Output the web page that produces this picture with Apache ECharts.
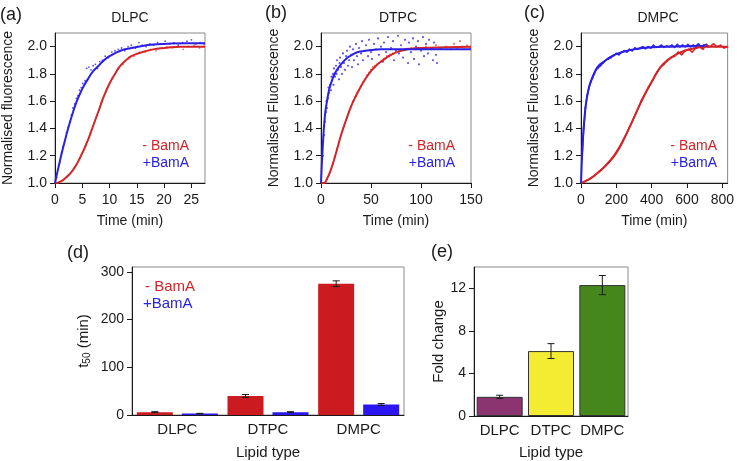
<!DOCTYPE html>
<html lang="en">
<head>
<meta charset="UTF-8">
<title>BamA folding kinetics</title>
<script src="https://cdn.jsdelivr.net/npm/echarts@6/dist/echarts.min.js"></script>
<style>
  html, body { margin: 0; padding: 0; background: #fff; }
  #main { width: 737px; height: 461px; }
</style>
</head>
<body>
<div id="main"></div>
<script>
// ---------- data ----------
// (a) DLPC
var dlpcFitMinus = [[0,1.0],[1,1.01],[2,1.04],[3,1.08],[4,1.14],[5,1.22],[6,1.31],[7,1.42],[8,1.53],[9,1.64],[10,1.73],[11,1.8],[12,1.86],[13,1.9],[14,1.93],[16,1.96],[18,1.98],[20,1.99],[23,2.0],[27.5,2.0]];
var dlpcFitPlus = [[0,1.0],[1,1.18],[2,1.34],[3,1.48],[4,1.6],[5,1.69],[6,1.76],[7,1.82],[8,1.86],[9,1.9],[10,1.93],[12,1.97],[14,1.99],[16,2.005],[18,2.015],[20,2.02],[24,2.025],[27.5,2.025]];
var dlpcPtsMinus = [[0.5,1.0],[1.5,1.02],[2.5,1.06],[3.5,1.11],[4.5,1.18],[5.5,1.27],[6.5,1.37],[7.5,1.48],[8.5,1.59],[9.5,1.69],[10.5,1.77],[11.5,1.84],[12.5,1.87],[13.5,1.91],[14.5,1.93],[15.5,1.96],[16.5,1.96],[17.5,1.98],[18.5,1.97],[19.5,1.99],[20.5,2.0],[21.5,1.99],[22.5,2.0],[23.5,1.98],[24.5,2.0],[25.5,2.01],[26.5,1.99],[27.3,2.0]];
var dlpcPtsPlus = [[0.3,1.04],[0.6,1.1],[0.9,1.15],[1.2,1.22],[1.5,1.27],[1.8,1.31],[2.1,1.37],[2.4,1.41],[2.7,1.45],[3.0,1.5],[3.3,1.55],[3.6,1.58],[3.9,1.62],[4.2,1.64],[4.5,1.68],[4.8,1.7],[5.1,1.73],[5.5,1.75],[5.8,1.84],[6.2,1.85],[6.6,1.83],[7.0,1.86],[7.4,1.87],[7.8,1.84],[8.2,1.89],[8.7,1.9],[9.2,1.93],[9.8,1.92],[10.4,1.96],[11,1.97],[11.6,1.98],[12.2,1.99],[12.8,1.97],[13.4,2.0],[14,2.01],[14.7,1.99],[15.4,2.03],[16,2.01],[16.7,2.0],[17.4,2.02],[18.1,2.01],[18.8,2.03],[19.5,2.02],[20.2,2.04],[21,2.02],[21.8,2.03],[22.6,2.01],[23.4,2.03],[24.2,2.04],[25,2.05],[25.8,2.02],[26.6,2.03],[27.3,2.02]];

// (b) DTPC
var dtpcFitMinus = [[0,1.0],[3,1.0],[6,1.03],[10,1.1],[15,1.22],[20,1.35],[25,1.46],[30,1.56],[35,1.64],[40,1.71],[45,1.77],[50,1.82],[55,1.86],[60,1.89],[70,1.94],[80,1.97],[90,1.985],[100,1.99],[150,2.0]];
var dtpcFitPlus = [[0,1.0],[2,1.3],[4,1.5],[6,1.6],[8,1.68],[10,1.73],[13,1.79],[16,1.83],[20,1.87],[25,1.91],[30,1.935],[35,1.955],[40,1.965],[50,1.975],[60,1.98],[150,1.98]];
var dtpcPtsMinus = [[3,1.0],[6,1.03],[8,1.06],[10,1.1],[12,1.14],[14,1.19],[16,1.25],[18,1.3],[20,1.35],[22,1.4],[24,1.44],[26,1.48],[28,1.52],[30,1.56],[32,1.6],[34,1.63],[36,1.66],[38,1.68],[40,1.71],[42,1.74],[44,1.76],[46,1.79],[48,1.81],[50,1.83],[52,1.85],[54,1.86],[56,1.87],[58,1.88],[60,1.89],[63,1.91],[66,1.93],[69,1.94],[72,1.95],[75,1.96],[78,1.97],[81,1.975],[84,1.98],[87,1.985],[90,1.99],[95,1.98],[100,1.99],[105,2.0],[110,1.98],[115,2.01],[120,1.99],[125,2.0],[130,1.98],[133,2.02],[136,1.99],[139,2.04],[141,2.0],[143,1.98],[146,2.01],[149,1.99]];
var dtpcPtsPlus = [[2,1.2],[3,1.35],[4,1.45],[5,1.52],[5.5,1.6],[6,1.55],[7,1.62],[7.5,1.7],[8,1.66],[9,1.72],[10,1.68],[10.5,1.78],[11,1.75],[12,1.8],[12.5,1.72],[13,1.84],[14,1.78],[15,1.86],[15.5,1.8],[16,1.9],[17,1.83],[18,1.76],[18.5,1.88],[19,1.92],[20,1.85],[21,1.8],[22,1.95],[23,1.88],[24,1.83],[25,1.93],[26,1.97],[27,1.86],[28,1.9],[29,2.0],[30,1.94],[31,1.85],[32,1.98],[33,1.9],[35,2.02],[36,1.93],[37,1.87],[38,1.99],[40,1.95],[41,2.04],[42,1.9],[44,1.97],[45,2.01],[47,1.93],[48,2.05],[50,1.96],[51,1.91],[53,2.02],[55,1.98],[57,2.06],[58,1.94],[60,2.0],[62,1.89],[63,2.03],[65,1.96],[67,2.07],[68,1.93],[70,1.99],[72,2.04],[73,1.9],[75,1.97],[77,2.08],[78,1.95],[80,2.01],[82,1.92],[84,2.05],[85,1.98],[87,1.88],[88,2.03],[90,1.96],[92,2.06],[93,1.91],[95,2.0],[97,2.04],[98,1.87],[100,1.97],[102,2.07],[103,1.93],[105,2.02],[107,1.95],[108,2.05],[110,1.99],[112,1.9],[113,2.03],[115,1.94],[116,1.88]];

// (c) DMPC
var dmpcFitMinus = [[0,1.0],[50,1.03],[100,1.08],[150,1.14],[200,1.22],[250,1.34],[300,1.48],[350,1.62],[400,1.74],[450,1.85],[500,1.91],[550,1.95],[600,1.975],[650,1.99],[700,2.0],[830,2.0]];
var dmpcFitPlus = [[0,1.0],[10,1.3],[20,1.48],[30,1.6],[45,1.7],[60,1.76],[80,1.82],[100,1.86],[130,1.89],[160,1.92],[200,1.945],[250,1.965],[300,1.98],[400,1.995],[500,2.0],[720,2.005]];
var dmpcPtsMinus = [[20,1.01],[60,1.04],[100,1.08],[140,1.13],[180,1.19],[220,1.27],[260,1.37],[300,1.48],[340,1.6],[380,1.7],[420,1.79],[450,1.85],[470,1.87],[490,1.9],[510,1.92],[530,1.93],[550,1.96],[570,1.94],[590,1.97],[610,1.98],[630,1.96],[650,1.99],[670,2.0],[690,1.98],[710,2.01],[730,2.0],[750,2.02],[770,2.0],[790,2.01],[810,1.99],[830,2.0]];
var dmpcPtsPlus = [[5,1.17],[15,1.4],[25,1.55],[35,1.64],[45,1.7],[55,1.74],[65,1.77],[75,1.8],[85,1.83],[95,1.84],[110,1.86],[125,1.88],[140,1.9],[155,1.91],[170,1.92],[185,1.935],[200,1.95],[215,1.94],[230,1.96],[245,1.97],[260,1.96],[275,1.98],[290,1.97],[305,1.99],[320,1.98],[335,1.99],[350,2.0],[365,1.985],[380,2.0],[395,1.99],[410,2.01],[425,1.995],[440,2.0],[455,2.01],[470,1.995],[485,2.005],[500,2.0],[515,2.01],[530,1.995],[545,2.015],[560,2.0],[575,2.01],[590,2.0],[605,2.015],[620,2.0],[635,2.01],[650,2.005],[665,2.02],[680,2.0],[695,2.01],[710,2.015],[720,2.0]];

// (d) t50 per lipid
var lipids = ['DLPC', 'DTPC', 'DMPC'];
var t50Minus = [6, 40, 275];
var t50MinusErr = [1, 3, 6];
var t50Plus = [3, 6, 22];
var t50PlusErr = [0.5, 1, 2];

// (e) fold change
var foldChange = [1.8, 6.1, 12.3];
var foldErr = [0.15, 0.7, 0.9];

// tick labels
var fluorTicks = [1.0, 1.2, 1.4, 1.6, 1.8, 2.0];
var dlpcTimeTicks = [0, 5, 10, 15, 20, 25];
var dtpcTimeTicks = [0, 50, 100, 150];
var dmpcTimeTicks = [0, 200, 400, 600, 800];
var t50Ticks = [0, 100, 200, 300];
var foldTicks = [0, 4, 8, 12];

// ---------- chart ----------
var FONT = '"Liberation Sans", Arial, sans-serif';
var RED = '#d32427';
var BLUE = '#2a20e6';
var INK = '#1a1a1a';

function valAxis(grid, min, max, ticks, extra) {
	var ax = {
		type: 'value',
		gridIndex: grid,
		min: min,
		max: max,
		axisLine: { show: true, onZero: false, lineStyle: { color: INK, width: 1 } },
		axisTick: { show: true, length: 5, customValues: ticks, lineStyle: { color: INK } },
		axisLabel: { color: INK, fontSize: 14, fontFamily: FONT, margin: 8, customValues: ticks },
		splitLine: { show: false },
		nameLocation: 'middle',
		nameTextStyle: { color: INK, fontSize: 14, fontFamily: FONT }
	};
	for (var k in extra) ax[k] = extra[k];
	return ax;
}

function fluorY(grid, name) {
	return valAxis(grid, 1.0, 2.1, fluorTicks, {
		name: name, nameGap: 40,
		axisLabel: { color: INK, fontSize: 14, fontFamily: FONT, margin: 8, customValues: fluorTicks,
			formatter: function (v) { return v.toFixed(1); } }
	});
}

function timeX(grid, max, ticks) {
	var ax = valAxis(grid, 0, max, ticks, { name: 'Time (min)', nameGap: 31 });
	ax.axisLabel.margin = 10;
	return ax;
}

function kinetics(idx, ptsMinus, ptsPlus, fitMinus, fitPlus, dotSize) {
	var size = dotSize || 1.8;
	return [
		{ type: 'scatter', xAxisIndex: idx, yAxisIndex: idx, data: ptsMinus, symbolSize: size,
			itemStyle: { color: '#e05a5a', opacity: 0.8 }, silent: true },
		{ type: 'scatter', xAxisIndex: idx, yAxisIndex: idx, data: ptsPlus, symbolSize: size,
			itemStyle: { color: '#4a40f0', opacity: 0.9 }, silent: true },
		{ type: 'line', xAxisIndex: idx, yAxisIndex: idx, data: fitMinus, smooth: true, showSymbol: false,
			lineStyle: { color: RED, width: 2 }, silent: true },
		{ type: 'line', xAxisIndex: idx, yAxisIndex: idx, data: fitPlus, smooth: true, showSymbol: false,
			lineStyle: { color: BLUE, width: 2 }, silent: true }
	];
}

// error bars drawn with the axes' own coordinate system
function errorBars(idx, values, errs, offsetFrac) {
	var data = values.map(function (v, i) { return [i, v, errs[i]]; });
	return {
		type: 'custom', xAxisIndex: idx, yAxisIndex: idx, data: data, z: 10, silent: true,
		renderItem: function (params, api) {
			var i = api.value(0), v = api.value(1), e = api.value(2);
			var hi = api.coord([i, v + e]);
			var lo = api.coord([i, v - e]);
			var x = hi[0] + api.size([1, 0])[0] * offsetFrac;
			var cap = 3.5;
			var st = { stroke: INK, lineWidth: 1 };
			return { type: 'group', children: [
				{ type: 'line', shape: { x1: x, y1: hi[1], x2: x, y2: lo[1] }, style: st },
				{ type: 'line', shape: { x1: x - cap, y1: hi[1], x2: x + cap, y2: hi[1] }, style: st },
				{ type: 'line', shape: { x1: x - cap, y1: lo[1], x2: x + cap, y2: lo[1] }, style: st }
			] };
		}
	};
}

function txt(x, y, s, color, size, align) {
	return { type: 'text', x: x, y: y, silent: true,
		style: { text: s, fill: color || INK, font: (size || 14) + 'px ' + FONT,
			textAlign: align || 'left', textVerticalAlign: 'middle' } };
}

var catAxisLabel = { color: INK, fontSize: 15, fontFamily: FONT, margin: 7, interval: 0 };

var option = {
	animation: false,
	backgroundColor: '#fff',
	grid: [
		{ left: 55, top: 33, width: 150, height: 150, show: true, borderColor: '#8a8a8a', borderWidth: 1 },
		{ left: 321, top: 33, width: 150, height: 150, show: true, borderColor: '#8a8a8a', borderWidth: 1 },
		{ left: 581, top: 33, width: 149, height: 150, show: true, borderColor: '#8a8a8a', borderWidth: 1 },
		{ left: 132, top: 267, width: 272, height: 149, show: true, borderColor: '#8a8a8a', borderWidth: 1 },
		{ left: 474, top: 267, width: 154, height: 150, show: true, borderColor: '#8a8a8a', borderWidth: 1 }
	],
	xAxis: [
		timeX(0, 27.5, dlpcTimeTicks),
		timeX(1, 150, dtpcTimeTicks),
		timeX(2, 830, dmpcTimeTicks),
		{ type: 'category', gridIndex: 3, data: lipids, name: 'Lipid type', nameLocation: 'middle', nameGap: 30,
			nameTextStyle: { color: INK, fontSize: 15, fontFamily: FONT },
			axisLine: { lineStyle: { color: INK } }, axisTick: { length: 5, lineStyle: { color: INK } },
			axisLabel: catAxisLabel },
		{ type: 'category', gridIndex: 4, data: lipids, name: 'Lipid type', nameLocation: 'middle', nameGap: 29,
			nameTextStyle: { color: INK, fontSize: 15, fontFamily: FONT },
			axisLine: { lineStyle: { color: INK } }, axisTick: { length: 5, lineStyle: { color: INK } },
			axisLabel: catAxisLabel }
	],
	yAxis: [
		fluorY(0, 'Normalised fluorescence'),
		fluorY(1, 'Normalised Fluorescence'),
		fluorY(2, 'Normalised Fluorescence'),
		valAxis(3, 0, 310, t50Ticks, {
			name: '{a|t}{b|50}{a| (min)}', nameGap: 40,
			nameTextStyle: { color: INK, fontFamily: FONT, rich: {
				a: { fontSize: 15, color: INK, fontFamily: FONT },
				b: { fontSize: 10, color: INK, fontFamily: FONT, padding: [7, 0, 0, 0] } } }
		}),
		valAxis(4, 0, 14, foldTicks, { name: 'Fold change', nameGap: 20,
			nameTextStyle: { color: INK, fontSize: 15, fontFamily: FONT } })
	],
	series: [].concat(
		kinetics(0, dlpcPtsMinus, dlpcPtsPlus, dlpcFitMinus, dlpcFitPlus),
		kinetics(1, dtpcPtsMinus, dtpcPtsPlus, dtpcFitMinus, dtpcFitPlus, 2.2),
		kinetics(2, dmpcPtsMinus, dmpcPtsPlus, dmpcFitMinus, dmpcFitPlus, 2),
		[
			{ type: 'line', xAxisIndex: 2, yAxisIndex: 2, data: dmpcPtsPlus, showSymbol: false,
				lineStyle: { color: BLUE, width: 1.5 }, silent: true },
			{ type: 'line', xAxisIndex: 2, yAxisIndex: 2, data: dmpcPtsMinus, showSymbol: false,
				lineStyle: { color: RED, width: 1.5 }, silent: true },
			{ type: 'bar', xAxisIndex: 3, yAxisIndex: 3, data: t50Minus, barWidth: 36, barGap: '25%',
				itemStyle: { color: '#cc1b20' }, silent: true },
			{ type: 'bar', xAxisIndex: 3, yAxisIndex: 3, data: t50Plus, barWidth: 36, barGap: '25%',
				itemStyle: { color: '#2b16f2' }, silent: true },
			errorBars(3, t50Minus, t50MinusErr, -0.248),
			errorBars(3, t50Plus, t50PlusErr, 0.248),
			{ type: 'bar', xAxisIndex: 4, yAxisIndex: 4, barWidth: 46, silent: true,
				data: [
					{ value: foldChange[0], itemStyle: { color: '#8a3470' } },
					{ value: foldChange[1], itemStyle: { color: '#f4ec32' } },
					{ value: foldChange[2], itemStyle: { color: '#46871c' } }
				],
				itemStyle: { borderColor: '#333', borderWidth: 1 } },
			errorBars(4, foldChange, foldErr, 0)
		]
	),
	graphic: [
		txt(0, 15, '(a)', INK, 18), txt(265, 13, '(b)', INK, 18), txt(524, 13, '(c)', INK, 18),
		txt(67, 253, '(d)', INK, 18), txt(431, 252, '(e)', INK, 18),
		txt(130, 18, 'DLPC', INK, 14, 'center'), txt(398, 18, 'DTPC', INK, 14, 'center'), txt(658, 18, 'DMPC', INK, 14, 'center'),
		txt(189, 146, '- BamA', RED, 14, 'right'), txt(189, 163, '+BamA', BLUE, 14, 'right'),
		txt(455, 146, '- BamA', RED, 14, 'right'), txt(455, 163, '+BamA', BLUE, 14, 'right'),
		txt(717, 146, '- BamA', RED, 14, 'right'), txt(717, 163, '+BamA', BLUE, 14, 'right'),
		txt(145, 287, '- BamA', RED, 15), txt(143, 304, '+BamA', BLUE, 15)
	]
};

var chart = echarts.init(document.getElementById('main'), null, { renderer: 'canvas' });
chart.setOption(option);
</script>
</body>
</html>
